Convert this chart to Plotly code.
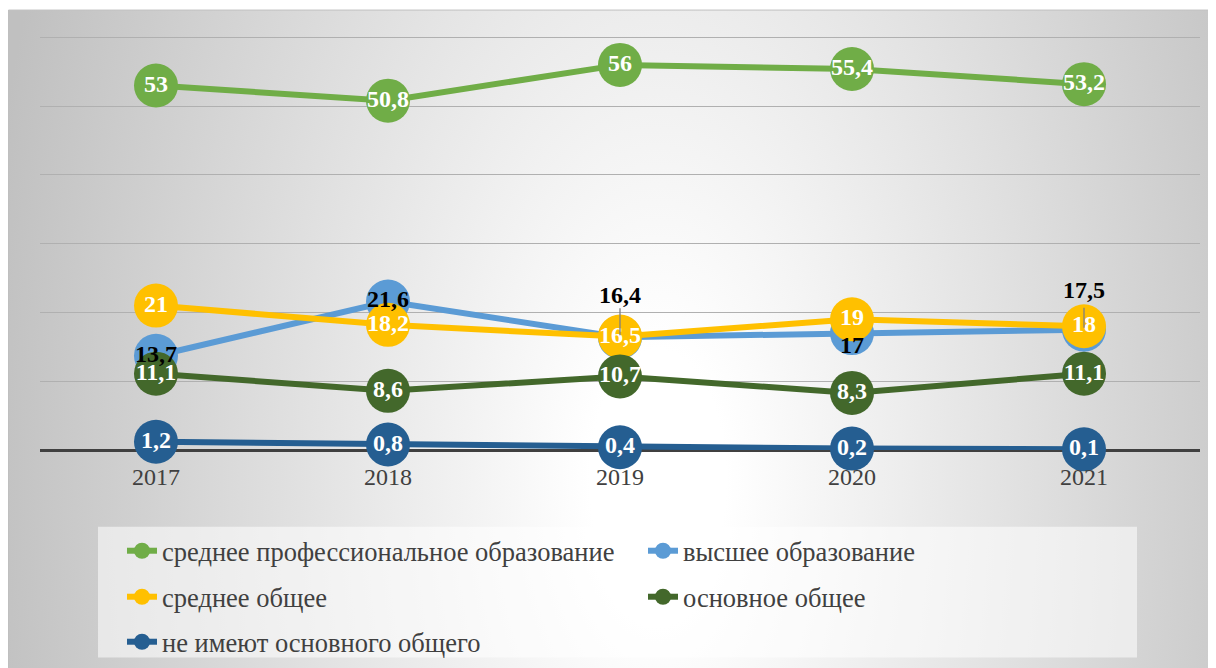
import base64
import plotly.graph_objects as go

# ---- data ----
years = ["2017", "2018", "2019", "2020", "2021"]
spo = [53, 50.8, 56, 55.4, 53.2]        # среднее профессиональное образование
vo = [13.7, 21.6, 16.4, 17, 17.5]       # высшее образование
so = [21, 18.2, 16.5, 19, 18]           # среднее общее
oo = [11.1, 8.6, 10.7, 8.3, 11.1]       # основное общее
ne = [1.2, 0.8, 0.4, 0.2, 0.1]          # не имеют основного общего

names = ["среднее профессиональное образование", "высшее образование",
         "среднее общее", "основное общее", "не имеют основного общего"]
series = [spo, vo, so, oo, ne]
colors = ["#70AD47", "#5B9BD5", "#FFC000", "#43682B", "#255E91"]


def fmt(v):
    return ("%g" % v).replace(".", ",")


# figure geometry (figure pixel coords; page is offset by the 8px body margin)
W, H = 1216, 668
L, R, T, B = 32, 24, 28, 225
PW, PH = W - L - R, H - T - B


def px_x(x):
    return (x - L) / PW


def px_y(y):
    return (H - B - y) / PH


SERIF = "Liberation Serif"
fig = go.Figure()
legends = ["legend", "legend2", "legend3", "legend4", "legend5"]
for idx, (name, vals, col, lg) in enumerate(zip(names, series, colors, legends)):
    white_labels = idx != 1
    fig.add_trace(go.Scatter(
        x=years, y=vals, name=name,
        mode="lines+markers+text" if white_labels else "lines+markers",
        text=["<b>" + fmt(v) + "</b>" for v in vals] if white_labels else None,
        textposition="middle center",
        textfont=dict(family=SERIF, size=24, color="white"),
        line=dict(color=col, width=6),
        marker=dict(color=col, size=44),
        cliponaxis=False, legend=lg, hoverinfo="skip",
    ))

# black labels of the blue series, drawn on top of everything
blue_textpos = ["middle center", "middle center", "top center", "bottom center", "top center"]
blue_offset_size = [10, 10, 44, 2, 39]
fig.add_trace(go.Scatter(
    x=years, y=vo, mode="markers+text", showlegend=False, hoverinfo="skip",
    text=["<b>" + fmt(v) + "</b>" for v in vo], textposition=blue_textpos,
    textfont=dict(family=SERIF, size=24, color="black"),
    marker=dict(size=blue_offset_size, color="rgba(0,0,0,0)", opacity=0,
                line=dict(width=0)),
    cliponaxis=False,
))

# leader lines for the labels placed above their points (x given as category index)
shapes = []
for i, top in [(2, 29), (4, 22)]:
    shapes.append(dict(type="line", xref="x", yref="y", x0=i, x1=i,
                       ysizemode="pixel", yanchor=vo[i], y0=2, y1=top,
                       line=dict(color="#7f7f7f", width=1.3), layer="above"))

# background radial gradient as inline SVG
svg = (
    '<svg xmlns="http://www.w3.org/2000/svg" width="1210" height="660">'
    '<defs><radialGradient id="g" gradientUnits="userSpaceOnUse" cx="650" cy="470" r="680" '
    'gradientTransform="translate(650,470) scale(1,1.9) translate(-650,-470)">'
    '<stop offset="0" stop-color="#ffffff"/><stop offset="0.1" stop-color="#ffffff"/>'
    '<stop offset="1" stop-color="#c0c0c0"/></radialGradient></defs>'
    '<rect x="0" y="0" width="1210" height="660" fill="url(#g)"/></svg>'
)
src = "data:image/svg+xml;base64," + base64.b64encode(svg.encode()).decode()

fx0, fy0 = 0, 2
images = [dict(source=src, xref="paper", yref="paper",
               x=px_x(fx0), y=px_y(fy0), sizex=1210 / PW, sizey=660 / PH,
               xanchor="left", yanchor="top", sizing="stretch", layer="below")]

shapes += [
    dict(type="rect", xref="paper", yref="paper",
         x0=px_x(fx0 + 0.5), x1=px_x(W + 5), y0=px_y(fy0), y1=px_y(H + 5),
         line=dict(color="#bfbfbf", width=1), fillcolor="rgba(0,0,0,0)", layer="below"),
    dict(type="rect", xref="paper", yref="paper",
         x0=px_x(90), x1=px_x(1129), y0=px_y(520), y1=px_y(651),
         line=dict(width=0), fillcolor="rgba(255,255,255,0.55)", layer="below"),
]

legend_font = dict(family=SERIF, size=26.5, color="#404040")
leg_pos = [(114, 543), (635, 543), (114, 589), (635, 589), (114, 634)]
leg_layout = {}
for lg, (lx, ly) in zip(legends, leg_pos):
    leg_layout[lg] = dict(x=px_x(lx), y=px_y(ly), xanchor="left", yanchor="middle",
                          bgcolor="rgba(0,0,0,0)", font=legend_font,
                          orientation="h", itemclick=False, itemdoubleclick=False)

fig.update_layout(
    width=W, height=H,
    margin=dict(l=L, r=R, t=T, b=B),
    paper_bgcolor="white", plot_bgcolor="rgba(0,0,0,0)",
    showlegend=True,
    xaxis=dict(type="category", range=[-0.5, 4.5], showgrid=False, zeroline=False,
               showline=False, ticks="", ticklabelstandoff=10,
               tickfont=dict(family=SERIF, size=24, color="#404040"),
               fixedrange=True),
    yaxis=dict(range=[0, 60.2], dtick=10, showgrid=True, gridcolor="#b0b0b0", gridwidth=1,
               zeroline=True, zerolinecolor="#404040", zerolinewidth=3,
               showticklabels=False, ticks="", fixedrange=True),
    shapes=shapes, images=images,
    **leg_layout,
)

fig.write_html("out.html")
